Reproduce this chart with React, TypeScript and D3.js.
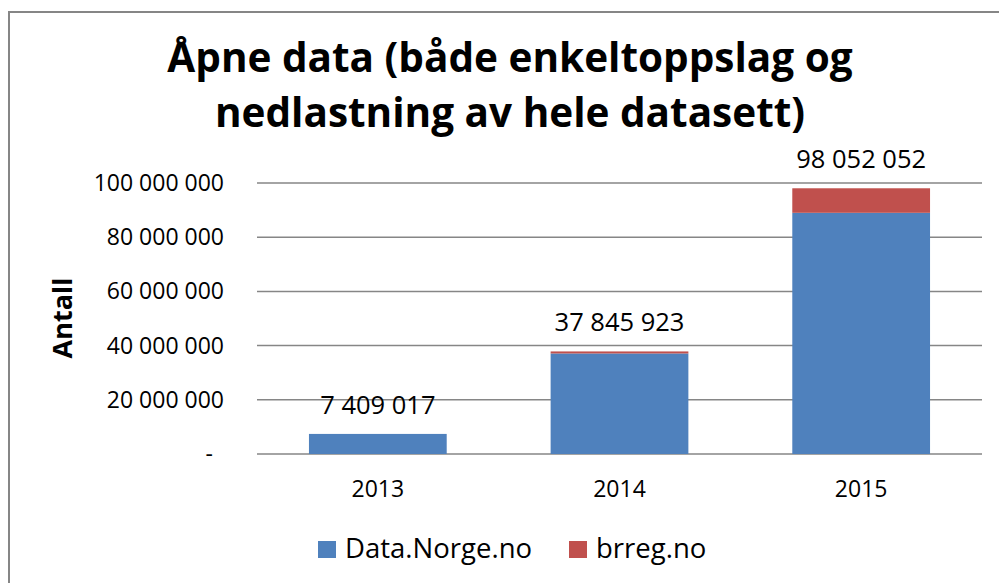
import React, { useRef, useEffect } from "react";
import * as d3 from "d3";

// chart values
const years = ["2013", "2014", "2015"];
const dataNorge = [7409017, 37100000, 89000000];
const brreg = [0, 745923, 9052052];
const seriesNames = ["Data.Norge.no", "brreg.no"];
const yTicks = [0, 20000000, 40000000, 60000000, 80000000, 100000000];
const titleLines = ["Åpne data (både enkeltoppslag og", "nedlastning av hele datasett)"];

const colors = ["#4F81BD", "#C0504D"];
const FONT = "'Open Sans', 'Liberation Sans', sans-serif";

const W = 999;
const H = 583;

const App = () => {
  const svgRef = useRef<SVGSVGElement>(null);

  useEffect(() => {
    draw();
  }, []);

  const draw = () => {
    const svg = d3.select(svgRef.current);
    svgRef.current!.querySelectorAll("*").forEach((n) => n.remove());

    const fmt = (v: number) => d3.format(",")(v).replace(/,/g, " ");

    const x = d3.scaleBand()
      .domain(years)
      .range([257, 982])
      .paddingInner(0.43)
      .paddingOuter(0.215);

    const y = d3.scaleLinear()
      .domain([0, 100000000])
      .range([454, 183]);

    svg.append("rect")
      .attr("width", W).attr("height", H)
      .attr("fill", "#fff");

    // outer frame (only left and top visible)
    svg.append("path")
      .attr("d", `M9,${H} L9,12 L${W},12`)
      .attr("fill", "none")
      .attr("stroke", "#868686")
      .attr("stroke-width", 2);

    // title
    const title = svg.append("text")
      .attr("font-family", FONT)
      .attr("font-weight", "bold")
      .attr("font-size", 40.5)
      .attr("text-anchor", "middle")
      .attr("fill", "#000");
    titleLines.forEach((t, i) => {
      title.append("tspan")
        .attr("x", 510)
        .attr("y", 72 + i * 55)
        .text(t);
    });

    // gridlines
    svg.append("g")
      .selectAll("line")
      .data(yTicks)
      .join("line")
      .attr("x1", 257)
      .attr("x2", 982)
      .attr("y1", (d) => y(d))
      .attr("y2", (d) => y(d))
      .attr("stroke", "#868686")
      .attr("stroke-width", 1.5);

    // y tick labels
    svg.append("g")
      .selectAll("text")
      .data(yTicks)
      .join("text")
      .attr("x", (d) => (d === 0 ? 213 : 224))
      .attr("y", (d) => y(d) + 8)
      .attr("text-anchor", "end")
      .attr("font-family", FONT)
      .attr("font-size", 23)
      .attr("fill", "#000")
      .text((d) => (d === 0 ? "-" : fmt(d)));

    // y axis title
    svg.append("text")
      .attr("transform", "translate(72, 318) rotate(-90)")
      .attr("text-anchor", "middle")
      .attr("font-family", FONT)
      .attr("font-weight", "bold")
      .attr("font-size", 27)
      .text("Antall");

    // stacked bars
    const table = years.map((yr, i) => ({ year: yr, a: dataNorge[i], b: brreg[i] }));
    const stacked = d3.stack<any>().keys(["a", "b"])(table);

    svg.append("g")
      .selectAll("g")
      .data(stacked)
      .join("g")
      .attr("fill", (_, i) => colors[i])
      .selectAll("rect")
      .data((d) => d)
      .join("rect")
      .attr("x", (d: any) => x(d.data.year)!)
      .attr("width", x.bandwidth())
      .attr("y", (d) => y(d[1]))
      .attr("height", (d) => y(d[0]) - y(d[1]));

    // totals above bars
    svg.append("g")
      .selectAll("text")
      .data(table)
      .join("text")
      .attr("x", (d) => x(d.year)! + x.bandwidth() / 2)
      .attr("y", (d) => y(d.a + d.b) - 20)
      .attr("text-anchor", "middle")
      .attr("font-family", FONT)
      .attr("font-size", 25.5)
      .attr("fill", "#000")
      .text((d) => fmt(d.a + d.b));

    // x labels
    svg.append("g")
      .selectAll("text")
      .data(years)
      .join("text")
      .attr("x", (d) => x(d)! + x.bandwidth() / 2)
      .attr("y", 497)
      .attr("text-anchor", "middle")
      .attr("font-family", FONT)
      .attr("font-size", 23)
      .attr("fill", "#000")
      .text((d) => d);

    // legend
    const legendX = [318, 569];
    const lg = svg.append("g")
      .selectAll("g")
      .data(seriesNames)
      .join("g")
      .attr("transform", (_, i) => `translate(${legendX[i]}, 541)`);
    lg.append("rect")
      .attr("width", 18).attr("height", 17)
      .attr("fill", (_, i) => colors[i]);
    lg.append("text")
      .attr("x", 27)
      .attr("y", 17)
      .attr("font-family", FONT)
      .attr("font-size", 27.5)
      .attr("fill", "#000")
      .text((d) => d);
  };

  return (
    <div>
      <svg
        ref={svgRef}
        width={W}
        height={H}
        style={{ position: "absolute", left: 0, top: 0 }}
      />
    </div>
  );
};

export default App;
